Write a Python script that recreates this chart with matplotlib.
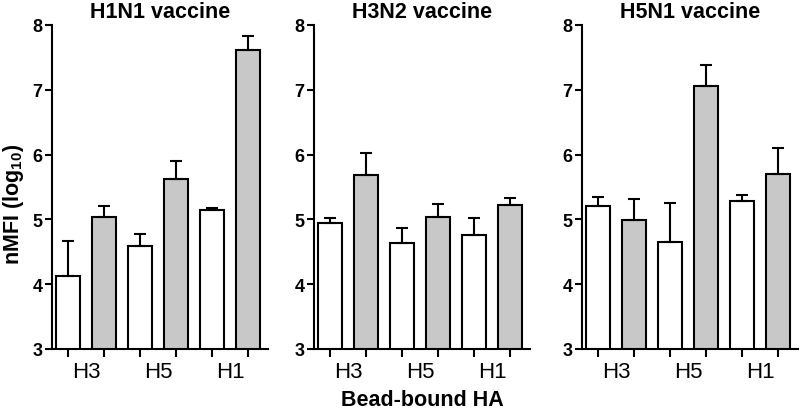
import matplotlib.pyplot as plt
import numpy as np

plt.rcParams['font.family'] = ['Liberation Sans', 'DejaVu Sans']
plt.rcParams['mathtext.fontset'] = 'custom'
plt.rcParams['mathtext.rm'] = 'Liberation Sans'
plt.rcParams['mathtext.bf'] = 'Liberation Sans:bold'

panels = ["H1N1 vaccine", "H3N2 vaccine", "H5N1 vaccine"]
groups = ["H3", "H5", "H1"]

# bar means, ordered H3 white, H3 gray, H5 white, H5 gray, H1 white, H1 gray
h1n1_mean = [4.13, 5.03, 4.59, 5.62, 5.15, 7.61]
h1n1_err = [0.53, 0.17, 0.19, 0.28, 0.03, 0.22]
h3n2_mean = [4.94, 5.69, 4.63, 5.03, 4.76, 5.22]
h3n2_err = [0.08, 0.33, 0.23, 0.21, 0.26, 0.11]
h5n1_mean = [5.21, 4.99, 4.65, 7.06, 5.29, 5.70]
h5n1_err = [0.14, 0.32, 0.60, 0.32, 0.09, 0.40]

means = [h1n1_mean, h3n2_mean, h5n1_mean]
errs = [h1n1_err, h3n2_err, h5n1_err]
colors = ["white", "#c8c8c8"] * 3

fig = plt.figure(figsize=(8, 4.14), dpi=100)
lefts = [0.065, 0.3925, 0.7275]
bottom, height, width = 0.1546, 0.7826, 0.27

for i in range(3):
    ax = fig.add_axes([lefts[i], bottom, width, height])
    x = np.arange(6)
    ax.bar(x, means[i], width=0.67, bottom=0, color=colors,
           edgecolor="black", linewidth=1.5, zorder=2)
    ax.errorbar(x, means[i], yerr=[np.zeros(6), errs[i]], fmt="none",
                ecolor="black", elinewidth=1.5, capsize=4.3, capthick=1.5,
                zorder=3)
    ax.set_ylim(3, 8)
    ax.set_xlim(-0.45, 5.55)
    for s in ["top", "right"]:
        ax.spines[s].set_visible(False)
    for s in ["left", "bottom"]:
        ax.spines[s].set_linewidth(1.5)
    ax.set_yticks([3, 4, 5, 6, 7, 8])
    ax.tick_params(axis="y", direction="out", length=5, width=1.5,
                   labelsize=13, pad=2)
    for lab in ax.get_yticklabels():
        lab.set_fontweight("bold")
    ax.set_xticks(x, minor=True)
    ax.set_xticks([0.5, 2.5, 4.5])
    ax.set_xticklabels(groups, fontsize=16)
    ax.tick_params(axis="x", which="minor", direction="out", length=6,
                   width=1.5)
    ax.tick_params(axis="x", which="major", length=0, pad=9)
    ax.set_title(panels[i], fontsize=15.5, fontweight="bold", pad=6)
    if i == 0:
        ax.set_ylabel("nMFI (log$_{\\mathbf{10}}$)", fontsize=15.5,
                      fontweight="bold")
        ax.yaxis.set_label_coords(-0.12, 0.45)
    if i == 1:
        ax.set_xlabel("Bead-bound HA", fontsize=15.5, fontweight="bold",
                      labelpad=5)

fig.savefig("out.png", dpi=100)
